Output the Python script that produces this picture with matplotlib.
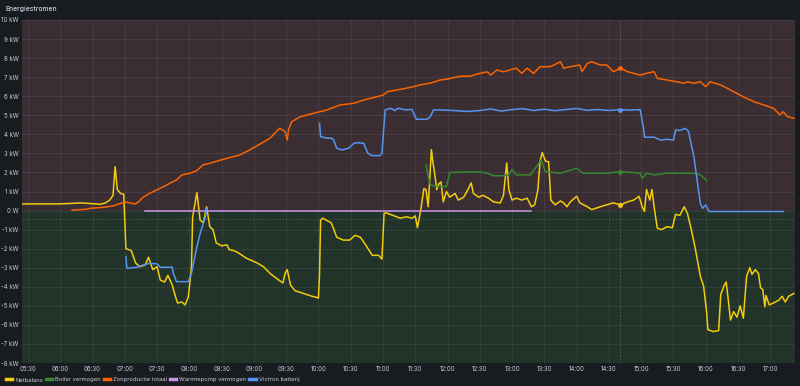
import pandas as pd
import matplotlib
matplotlib.use("Agg")
import matplotlib.pyplot as plt
import matplotlib.dates as mdates
from matplotlib.ticker import FuncFormatter, MultipleLocator

day = "2024-05-20 "

# Netbalans (kW)
net_t = ["05:24", "06:00", "06:20", "06:37", "06:42", "06:46", "06:49", "06:51", "06:53", "06:56",
         "06:59", "07:01", "07:06", "07:10", "07:14", "07:19", "07:22", "07:26", "07:30", "07:33",
         "07:37", "07:40", "07:44", "07:47", "07:49", "07:53", "07:56", "07:59", "08:02", "08:03",
         "08:07", "08:10", "08:13", "08:16", "08:19", "08:22", "08:25", "08:30", "08:35", "08:37",
         "08:41", "08:45", "08:53", "09:03", "09:09", "09:15", "09:22", "09:27", "09:29", "09:31",
         "09:34", "09:38", "09:46", "09:54", "09:58", "10:00", "10:01", "10:02", "10:04", "10:12",
         "10:17", "10:23", "10:29", "10:34", "10:39", "10:45", "10:50", "10:56", "10:59", "11:01",
         "11:03", "11:09", "11:16", "11:22", "11:27", "11:30", "11:32", "11:35", "11:38", "11:40",
         "11:42", "11:45", "11:46", "11:48", "11:50", "11:52", "11:54", "11:56", "11:59", "12:02",
         "12:07", "12:10", "12:15", "12:19", "12:22", "12:24", "12:29", "12:33", "12:38", "12:43",
         "12:49", "12:52", "12:55", "12:57", "13:00", "13:04", "13:09", "13:14", "13:18", "13:21",
         "13:24", "13:26", "13:28", "13:31", "13:34", "13:36", "13:40", "13:45", "13:48", "13:51",
         "13:54", "14:00", "14:03", "14:10", "14:14", "14:22", "14:28", "14:34", "14:41", "14:47",
         "14:53", "14:58", "15:01", "15:03", "15:05", "15:08", "15:10", "15:12", "15:15", "15:19",
         "15:24", "15:29", "15:32", "15:36", "15:40", "15:43", "15:46", "15:50", "15:55", "15:58",
         "16:01", "16:02", "16:07", "16:12", "16:14", "16:17", "16:19", "16:21", "16:23", "16:26",
         "16:29", "16:32", "16:35", "16:38", "16:41", "16:43", "16:46", "16:49", "16:51", "16:53",
         "16:55", "16:56", "16:59", "17:03", "17:08", "17:11", "17:14", "17:17", "17:22"]
net_v = [0.35, 0.35, 0.40, 0.33, 0.40, 0.55, 0.80, 2.30, 1.10, 0.90,
         0.85, -2.0, -2.1, -2.75, -2.95, -2.85, -2.45, -3.1, -2.95, -3.65,
         -3.75, -3.4, -3.9, -4.5, -4.85, -4.8, -4.95, -4.55, -2.95, -0.35,
         0.94, -0.5, -0.65, 0.2, -0.85, -1.0, -1.7, -1.85, -1.8, -2.05,
         -2.1, -2.2, -2.5, -2.75, -2.95, -3.3, -3.6, -3.8, -3.3, -3.1,
         -3.9, -4.2, -4.35, -4.5, -4.55, -4.6, -3.3, -0.5, -0.4, -0.65,
         -1.4, -1.55, -1.55, -1.3, -1.4, -1.9, -2.35, -2.35, -2.55, -0.15,
         -0.12, -0.25, -0.4, -0.33, -0.4, -0.28, -0.9, 0.0, 1.15, 1.1,
         0.2, 3.2, 2.7, 1.95, 1.1, 1.4, 1.5, 0.45, 1.0, 0.7,
         0.9, 0.55, 0.7, 1.1, 1.45, 0.9, 0.7, 0.8, 0.65, 0.45,
         0.4, 0.8, 2.5, 1.1, 0.55, 0.65, 0.55, 0.65, 0.2, 0.3,
         1.1, 2.6, 3.05, 2.6, 2.55, 0.55, 0.3, 0.5, 0.4, 0.2,
         0.45, 0.75, 0.4, 0.2, 0.05, 0.2, 0.3, 0.4, 0.3, 0.45,
         0.55, 0.75, 0.2, -0.05, 1.1, 0.55, 1.1, 0.2, -0.93, -1.0,
         -0.85, -0.9, -0.2, -0.25, 0.2, -0.15, -0.85, -1.9, -3.45, -3.95,
         -5.4, -6.25, -6.35, -6.3, -4.4, -3.95, -3.75, -4.7, -5.75, -5.3,
         -5.6, -5.0, -5.65, -3.45, -3.0, -3.35, -3.1, -3.3, -4.05, -4.15,
         -5.05, -4.45, -4.95, -4.85, -4.7, -4.5, -4.8, -4.5, -4.35]

# Boiler vermogen (kW)
boiler_t = ["11:40", "11:42", "11:44", "11:50", "11:59", "12:02", "12:03", "12:18", "12:30", "12:37",
            "12:43", "12:52", "12:57", "13:00", "13:04", "13:17", "13:27", "13:31", "13:45", "14:00",
            "14:06", "14:28", "14:41", "14:59", "15:01", "15:05", "15:12", "15:24", "15:49", "15:55",
            "16:01"]
boiler_v = [2.4, 1.8, 1.35, 1.26, 1.26, 1.96, 2.0, 2.03, 2.03, 1.96,
            1.82, 1.83, 1.87, 2.17, 1.87, 1.87, 2.65, 2.04, 1.96, 2.22,
            1.96, 1.96, 2.04, 1.96, 1.7, 1.96, 1.87, 1.96, 1.96, 1.87,
            1.57]

# Zonproductie totaal (kW)
zon_t = ["06:11", "06:25", "06:28", "06:40", "06:49", "06:56", "07:02", "07:06", "07:10", "07:13",
         "07:17", "07:23", "07:33", "07:39", "07:44", "07:48", "07:53", "08:01", "08:07", "08:13",
         "08:19", "08:29", "08:35", "08:41", "08:47", "08:56", "09:06", "09:15", "09:24", "09:29",
         "09:31", "09:32", "09:35", "09:43", "09:55", "10:08", "10:20", "10:33", "10:42", "10:54",
         "11:00", "11:04", "11:13", "11:20", "11:28", "11:35", "11:45", "11:53", "12:00", "12:12",
         "12:21", "12:30", "12:37", "12:40", "12:46", "12:52", "12:58", "13:04", "13:09", "13:14",
         "13:20", "13:26", "13:35", "13:39", "13:45", "13:48", "13:54", "14:03", "14:05", "14:10",
         "14:14", "14:22", "14:28", "14:34", "14:41", "14:47", "14:53", "14:59", "15:05", "15:12",
         "15:15", "15:24", "15:33", "15:40", "15:43", "15:49", "15:55", "16:00", "16:04", "16:14",
         "16:26", "16:35", "16:45", "16:54", "17:03", "17:09", "17:12", "17:16", "17:22"]
zon_v = [0.02, 0.07, 0.12, 0.17, 0.24, 0.38, 0.44, 0.38, 0.35, 0.47,
         0.70, 0.90, 1.17, 1.34, 1.50, 1.60, 1.87, 1.96, 2.10, 2.40,
         2.48, 2.65, 2.74, 2.83, 2.92, 3.18, 3.50, 3.80, 4.32, 4.15,
         3.70, 4.20, 4.66, 4.92, 5.10, 5.28, 5.54, 5.63, 5.80, 5.97,
         6.06, 6.24, 6.33, 6.40, 6.50, 6.60, 6.70, 6.85, 6.90, 7.05,
         7.05, 7.20, 7.28, 7.11, 7.38, 7.28, 7.38, 7.47, 7.20, 7.47,
         7.20, 7.55, 7.55, 7.64, 7.81, 7.47, 7.55, 7.64, 7.29, 7.73,
         7.81, 7.64, 7.64, 7.29, 7.47, 7.29, 7.20, 7.11, 7.20, 7.29,
         6.94, 6.85, 6.76, 6.68, 6.76, 6.68, 6.76, 6.50, 6.76, 6.59,
         6.24, 5.97, 5.71, 5.54, 5.37, 5.02, 5.19, 4.93, 4.84]

# Warmtepomp vermogen (kW)
wp_t = ["07:19", "13:18"]
wp_v = [0.0, 0.0]

# Victron batterij (kW), two segments
vic1_t = ["07:01", "07:02", "07:11", "07:17", "07:23", "07:30", "07:33", "07:44", "07:45", "07:48",
          "07:59", "08:02", "08:07", "08:10", "08:15", "08:16"]
vic1_v = [-2.42, -3.03, -2.98, -2.86, -2.77, -2.80, -2.98, -2.97, -3.28, -3.73,
          -3.73, -3.28, -1.90, -1.20, -0.32, 0.12]
vic2_t = ["10:01", "10:02", "10:08", "10:12", "10:14", "10:17", "10:22", "10:28", "10:33", "10:37",
          "10:42", "10:46", "10:50", "10:57", "10:59", "11:02", "11:07", "11:11", "11:14", "11:21",
          "11:27", "11:31", "11:41", "11:44", "11:47", "11:53", "12:06", "12:18", "12:30", "12:40",
          "12:50", "13:00", "13:10", "13:20", "13:30", "13:40", "13:50", "14:00", "14:10", "14:20",
          "14:30", "14:40", "14:50", "14:59", "15:02", "15:03", "15:12", "15:18", "15:24", "15:30",
          "15:32", "15:36", "15:41", "15:44", "15:49", "15:52", "15:55", "15:57", "16:00", "16:03",
          "17:12"]
vic2_v = [4.58, 3.88, 3.80, 3.80, 3.72, 3.27, 3.18, 3.27, 3.53, 3.56,
          3.53, 3.00, 2.88, 2.88, 3.00, 5.28, 5.37, 5.25, 5.37, 5.28,
          5.31, 4.79, 4.79, 4.93, 5.28, 5.28, 5.25, 5.20, 5.25, 5.33,
          5.22, 5.30, 5.35, 5.25, 5.32, 5.24, 5.30, 5.36, 5.26, 5.30,
          5.25, 5.30, 5.27, 5.30, 4.40, 3.85, 3.85, 3.70, 3.74, 3.70,
          4.23, 4.20, 4.32, 4.15, 2.83, 1.60, 0.38, 0.12, 0.30, -0.05,
          -0.05]

series = [
    ("Netbalans", "#F2CC0C", net_t, net_v),
    ("Boiler vermogen", "#37872D", boiler_t, boiler_v),
    ("Zonproductie totaal", "#FA6400", zon_t, zon_v),
    ("Warmtepomp vermogen", "#CA95E5", wp_t, wp_v),
    ("Victron batterij", "#5794F2", vic1_t, vic1_v),
]


def to_dt(times):
    return pd.to_datetime([day + t for t in times])


plt.rcParams['font.family'] = ['Inter', 'DejaVu Sans']
txt = "#ccccdc"

fig = plt.figure(figsize=(8, 3.86), dpi=100, facecolor="#181b1f")
ax = fig.add_axes([22 / 800, 23 / 386, 773 / 800, 343 / 386])
ax.set_facecolor("#181b1f")

ax.axhspan(0, 10, color="#3a2e33", zorder=0)
ax.axhspan(-8, 0, color="#22332a", zorder=0)

for name, col, t, v in series:
    ax.plot(to_dt(t), v, color=col, lw=1.1, label=name, zorder=3)
ax.plot(to_dt(vic2_t), vic2_v, color="#5794F2", lw=1.1, zorder=3)

# hover crosshair
hover = pd.Timestamp(day + "14:40")
ax.axvline(hover, color="#8e8e99", lw=0.6, ls=(0, (2, 2)), alpha=0.5, zorder=2)
ax.axhline(-0.45, color="#8e8e99", lw=0.6, ls=(0, (2, 2)), alpha=0.35, zorder=2)
for col, val in [("#FA6400", 7.47), ("#5794F2", 5.30), ("#37872D", 2.04), ("#F2CC0C", 0.3)]:
    ax.plot([hover], [val], "o", color=col, ms=2.5, zorder=4)

ax.set_ylim(-8, 10)
ax.set_xlim(pd.Timestamp(day + "05:24:25"), pd.Timestamp(day + "17:23"))
ax.yaxis.set_major_locator(MultipleLocator(1))
ax.yaxis.set_major_formatter(FuncFormatter(lambda v, p: "0 W" if v == 0 else f"{int(v)} kW"))
ax.xaxis.set_major_locator(mdates.MinuteLocator(byminute=[0, 30]))
ax.xaxis.set_major_formatter(mdates.DateFormatter("%H:%M"))
ax.grid(True, color="#ffffff", alpha=0.07, lw=0.7)
ax.set_axisbelow(False)
ax.tick_params(colors=txt, labelsize=4.4, length=0, pad=2.5)
for s in ax.spines.values():
    s.set_visible(False)

fig.text(5 / 800, 1 - 9 / 386, "Energiestromen", color=txt, fontsize=4.9, va="center",
         fontweight="medium")

fig.legend(loc="lower left", bbox_to_anchor=(0.003, 0.0), ncol=5, fontsize=4.2,
           frameon=False, handlelength=1.1, handletextpad=0.5, columnspacing=0.5,
           labelcolor=txt, borderaxespad=0.2)
for line in fig.legends[0].get_lines():
    line.set_linewidth(2.5)

fig.savefig("out.png", dpi=100, facecolor=fig.get_facecolor())
